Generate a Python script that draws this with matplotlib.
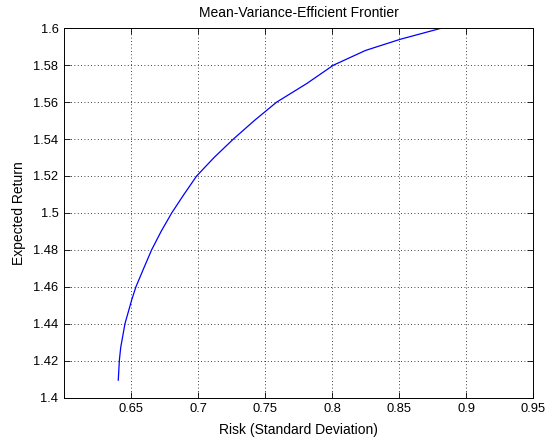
import matplotlib
matplotlib.use("Agg")
import matplotlib.pyplot as plt

risk = [0.6405, 0.6413, 0.6423, 0.6455, 0.6505, 0.6537, 0.6595, 0.6654,
        0.6725, 0.6804, 0.6895, 0.6990, 0.7120, 0.7264, 0.7420, 0.7587, 0.7810,
        0.8010, 0.8250, 0.8507, 0.8813]
ret = [1.4094, 1.42, 1.427, 1.44, 1.4528, 1.46, 1.47, 1.48,
       1.49, 1.50, 1.51, 1.52, 1.53, 1.54, 1.55, 1.56, 1.57,
       1.58, 1.588, 1.594, 1.60]
xticks = [0.65, 0.7, 0.75, 0.8, 0.85, 0.9, 0.95]
xticklabels = ["0.65", "0.7", "0.75", "0.8", "0.85", "0.9", "0.95"]
yticks = [1.4, 1.42, 1.44, 1.46, 1.48, 1.5, 1.52, 1.54, 1.56, 1.58, 1.6]
yticklabels = ["1.4", "1.42", "1.44", "1.46", "1.48", "1.5", "1.52", "1.54", "1.56", "1.58", "1.6"]

plt.rcParams['font.family'] = ['Liberation Sans', 'DejaVu Sans']
fig = plt.figure(figsize=(5.46, 4.40), dpi=100)
ax = fig.add_axes([64/546, 1 - 397.5/440, (533 - 64)/546, (397.5 - 28.3)/440])
ax.plot(risk, ret, color=(0, 0, 1), lw=0.9)
ax.set_xlim(0.6, 0.95)
ax.set_ylim(1.4, 1.6)
ax.set_xticks(xticks)
ax.set_xticklabels(xticklabels)
ax.set_yticks(yticks)
ax.set_yticklabels(yticklabels)
ax.tick_params(direction='in', top=True, right=True, length=4, width=0.6,
               labelsize=9.3, colors='black', pad=4)
ax.grid(True, color='black', linestyle=(0, (1, 3)), linewidth=0.6)
for s in ax.spines.values():
    s.set_linewidth(0.7)
ax.set_title("Mean-Variance-Efficient Frontier", fontsize=10, pad=8)
ax.set_xlabel("Risk (Standard Deviation)", fontsize=10, labelpad=6)
ax.set_ylabel("Expected Return", fontsize=10, labelpad=5)
fig.savefig("out.png", dpi=100)
